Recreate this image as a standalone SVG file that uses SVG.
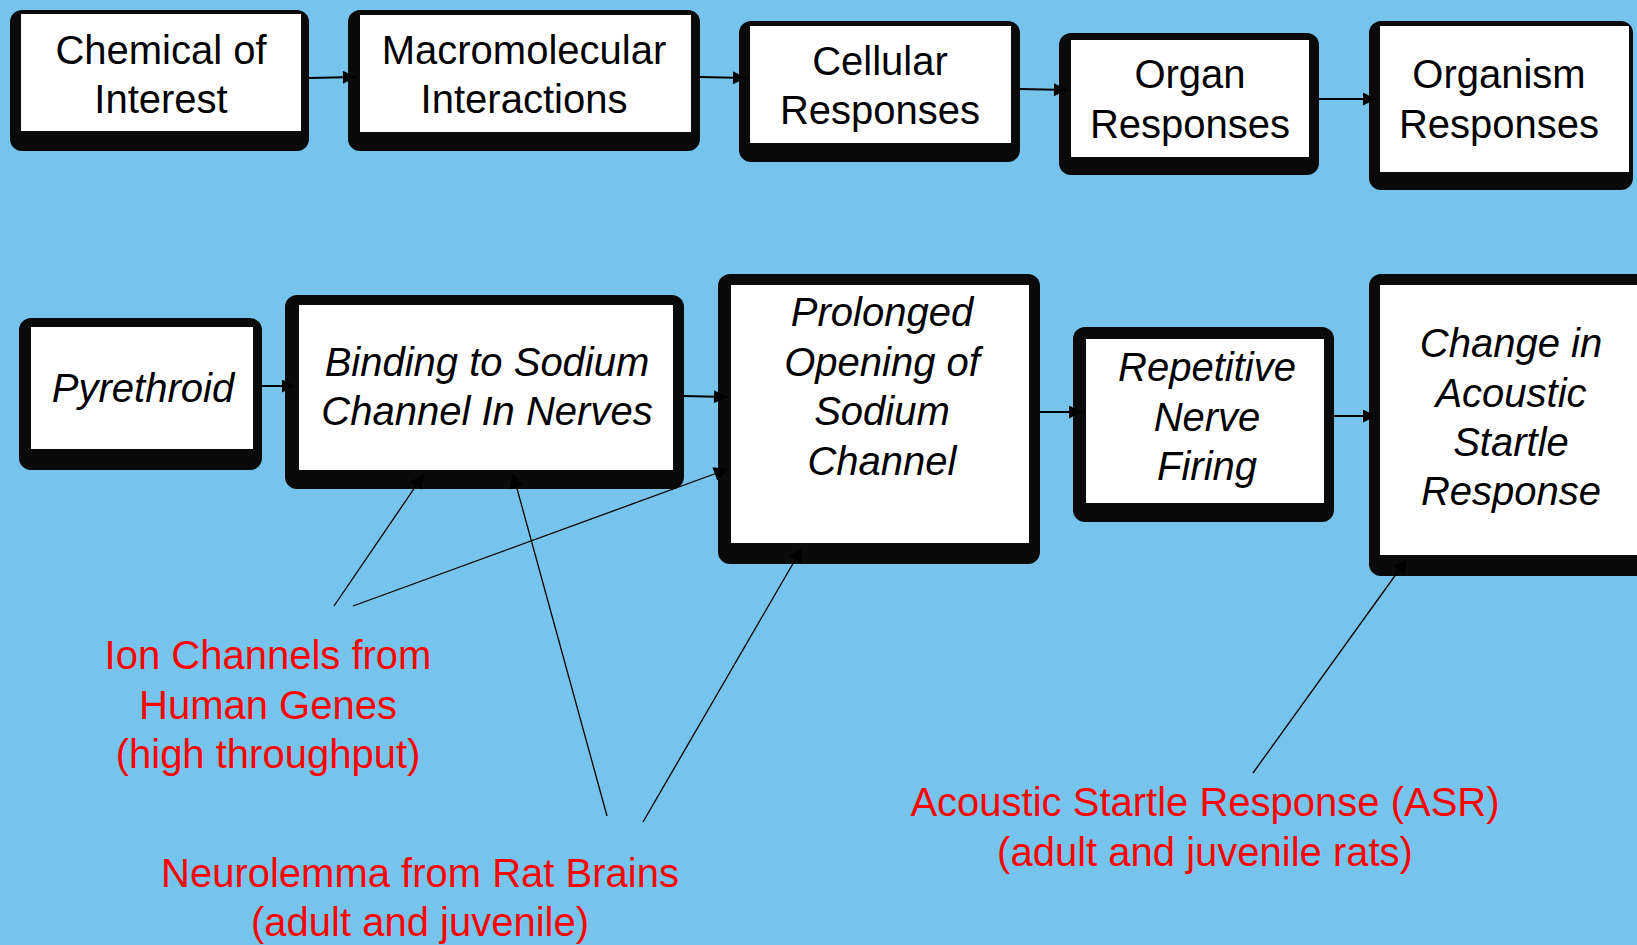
<svg xmlns="http://www.w3.org/2000/svg" width="1637" height="945" viewBox="0 0 1637 945">
<defs>
<style>
.sh{fill:#0a0a0a}
.bx{fill:#ffffff}
.t{font-family:"Liberation Sans",Arial,sans-serif;font-size:40px;fill:#000;text-anchor:middle}
.i{font-style:italic}
.r{font-family:"Liberation Sans",Arial,sans-serif;font-size:40px;fill:#ff0000;text-anchor:middle}
.c{stroke:#000;stroke-width:2;fill:none}
.th{stroke:#000;stroke-width:1.3;fill:none}
</style>
<marker id="ah" viewBox="0 0 10 10" refX="10" refY="5" markerWidth="20" markerHeight="13" markerUnits="userSpaceOnUse" orient="auto"><path d="M0,0 L10,5 L0,10 z" fill="#000"/></marker>
<marker id="ah2" viewBox="0 0 10 10" refX="10" refY="5" markerWidth="24" markerHeight="14" markerUnits="userSpaceOnUse" orient="auto"><path d="M0,0 L10,5 L0,10 z" fill="#000"/></marker>
</defs>
<rect width="1637" height="945" fill="#76c4ec"/>

<g id="chemical">
<rect class="sh" x="10" y="10" width="299" height="141" rx="12"/>
<rect class="bx" x="21" y="14" width="280" height="117"/>
<text class="t" x="161" y="64">Chemical of</text>
<text class="t" x="161" y="113">Interest</text>
</g>
<g id="macromolecular">
<rect class="sh" x="348" y="10" width="352" height="141" rx="12"/>
<rect class="bx" x="360" y="15" width="331" height="117"/>
<text class="t" x="524" y="64">Macromolecular</text>
<text class="t" x="524" y="113">Interactions</text>
</g>
<g id="cellular">
<rect class="sh" x="739" y="21" width="281" height="141" rx="12"/>
<rect class="bx" x="750" y="26" width="261" height="117"/>
<text class="t" x="880" y="75">Cellular</text>
<text class="t" x="880" y="124">Responses</text>
</g>
<g id="organ">
<rect class="sh" x="1059" y="33" width="260" height="142" rx="12"/>
<rect class="bx" x="1071" y="40" width="238" height="117"/>
<text class="t" x="1190" y="88">Organ</text>
<text class="t" x="1190" y="138">Responses</text>
</g>
<g id="organism">
<rect class="sh" x="1369" y="21" width="264" height="169" rx="12"/>
<rect class="bx" x="1380" y="26" width="249" height="146"/>
<text class="t" x="1499" y="88">Organism</text>
<text class="t" x="1499" y="138">Responses</text>
</g>

<g id="pyrethroid">
<rect class="sh" x="19" y="318" width="243" height="152" rx="12"/>
<rect class="bx" x="31" y="327" width="222" height="122"/>
<text class="t i" x="143" y="402">Pyrethroid</text>
</g>
<g id="binding">
<rect class="sh" x="285" y="295" width="399" height="194" rx="12"/>
<rect class="bx" x="299" y="305" width="374" height="165"/>
<text class="t i" x="487" y="376">Binding to Sodium</text>
<text class="t i" x="487" y="425">Channel In Nerves</text>
</g>
<g id="prolonged">
<rect class="sh" x="718" y="274" width="322" height="290" rx="12"/>
<rect class="bx" x="731" y="285" width="298" height="258"/>
<text class="t i" x="882" y="326">Prolonged</text>
<text class="t i" x="882" y="376">Opening of</text>
<text class="t i" x="882" y="425">Sodium</text>
<text class="t i" x="882" y="475">Channel</text>
</g>
<g id="repetitive">
<rect class="sh" x="1073" y="327" width="261" height="195" rx="12"/>
<rect class="bx" x="1086" y="339" width="238" height="164"/>
<text class="t i" x="1207" y="381">Repetitive</text>
<text class="t i" x="1207" y="431">Nerve</text>
<text class="t i" x="1207" y="480">Firing</text>
</g>
<g id="change">
<rect class="sh" x="1369" y="274" width="290" height="302" rx="12"/>
<rect class="bx" x="1380" y="285" width="270" height="270"/>
<text class="t i" x="1511" y="357">Change in</text>
<text class="t i" x="1511" y="407">Acoustic</text>
<text class="t i" x="1511" y="456">Startle</text>
<text class="t i" x="1511" y="505">Response</text>
</g>

<g id="label-ion">
<text class="r" x="268" y="669">Ion Channels from</text>
<text class="r" x="268" y="719">Human Genes</text>
<text class="r" x="268" y="768">(high throughput)</text>
</g>
<g id="label-neurolemma">
<text class="r" x="420" y="887">Neurolemma from Rat Brains</text>
<text class="r" x="420" y="936">(adult and juvenile)</text>
</g>
<g id="label-asr">
<text class="r" x="1205" y="816">Acoustic Startle Response (ASR)</text>
<text class="r" x="1205" y="866">(adult and juvenile rats)</text>
</g>

<g id="connectors">
<line class="c" x1="309" y1="78" x2="356" y2="77" marker-end="url(#ah)"/>
<line class="c" x1="700" y1="77" x2="746" y2="78" marker-end="url(#ah)"/>
<line class="c" x1="1020" y1="89" x2="1067" y2="90" marker-end="url(#ah)"/>
<line class="c" x1="1319" y1="99" x2="1376" y2="99" marker-end="url(#ah)"/>
<line class="c" x1="262" y1="386" x2="295" y2="386" marker-end="url(#ah)"/>
<line class="c" x1="684" y1="396" x2="727" y2="397" marker-end="url(#ah)"/>
<line class="c" x1="1040" y1="412" x2="1082" y2="412" marker-end="url(#ah)"/>
<line class="c" x1="1334" y1="416" x2="1376" y2="416" marker-end="url(#ah)"/>
<line class="th" x1="334" y1="606" x2="424" y2="474" marker-end="url(#ah2)"/>
<line class="th" x1="353" y1="606" x2="728" y2="469" marker-end="url(#ah2)"/>
<line class="th" x1="607" y1="816" x2="513" y2="474" marker-end="url(#ah2)"/>
<line class="th" x1="643" y1="822" x2="802" y2="548" marker-end="url(#ah2)"/>
<line class="th" x1="1253" y1="773" x2="1407" y2="559" marker-end="url(#ah2)"/>
</g>
</svg>
